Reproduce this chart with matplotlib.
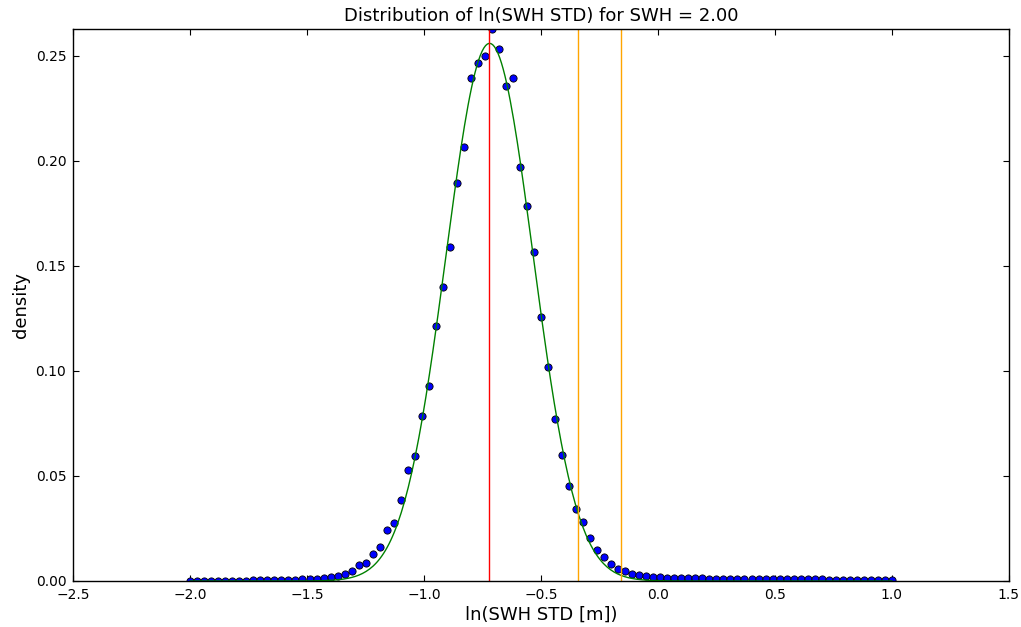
"""Distribution of ln(SWH STD) for one SWH bin, with a Gaussian fit."""

import matplotlib
matplotlib.use("Agg")
import matplotlib.pyplot as plt  # noqa: E402
import numpy as np  # noqa: E402

# histogram bins: centres from -2.0 to 1.0 in steps of 0.03
BIN_START = -2.0
BIN_STOP = 1.0
N_BINS = 101

DENSITY = [
    0.0001, 0.0001, 0.0001, 0.0001, 0.0001, 0.0002, 0.0002, 0.0002, 0.0002, 0.0003,
    0.0003, 0.0003, 0.0004, 0.0005, 0.0006, 0.0007, 0.0008, 0.0009, 0.0011, 0.0016,
    0.0017, 0.0025, 0.0035, 0.0046, 0.0076, 0.0086, 0.0127, 0.0163, 0.0241, 0.0276,
    0.0386, 0.0529, 0.0595, 0.0786, 0.0929, 0.1216, 0.1400, 0.1590, 0.1894, 0.2068,
    0.2397, 0.2468, 0.2500, 0.2627, 0.2535, 0.2356, 0.2397, 0.1971, 0.1786, 0.1565,
    0.1257, 0.1020, 0.0770, 0.0600, 0.0451, 0.0343, 0.0281, 0.0206, 0.0148, 0.0114,
    0.0081, 0.0056, 0.0046, 0.0035, 0.0027, 0.0024, 0.0021, 0.0019, 0.0016, 0.0014,
    0.0013, 0.0013, 0.0012, 0.0012, 0.0011, 0.0011, 0.0011, 0.0009, 0.0009, 0.0009,
    0.0009, 0.0009, 0.0009, 0.0008, 0.0008, 0.0008, 0.0008, 0.0009, 0.0009, 0.0008,
    0.0008, 0.0007, 0.0007, 0.0007, 0.0007, 0.0007, 0.0006, 0.0006, 0.0006, 0.0006,
    0.0004,
]

# Gaussian fit parameters
FIT_MEAN = -0.72
FIT_STD = 0.186
FIT_PEAK = 0.256

# vertical markers
MEAN_LINE = -0.723
QUANTILE_LINES = [-0.344, -0.160]

SWH = 2.00


def main() -> None:
    x = np.linspace(BIN_START, BIN_STOP, N_BINS)
    dens = np.array(DENSITY)

    xf = np.linspace(BIN_START, BIN_STOP, 400)
    yf = FIT_PEAK * np.exp(-0.5 * ((xf - FIT_MEAN) / FIT_STD) ** 2)

    fig = plt.figure(figsize=(10.21, 6.27), dpi=100)
    ax = fig.add_axes([0.0718, 0.0734, 0.9162, 0.8799])

    ax.plot(x, dens, "o", color="b", markeredgecolor="k", markersize=5.2,
            markeredgewidth=0.6)
    ax.plot(xf, yf, color="g", linewidth=1.0)
    ax.axvline(MEAN_LINE, color="r", linewidth=1.0)
    for q in QUANTILE_LINES:
        ax.axvline(q, color="orange", linewidth=1.0)

    ax.set_xlim(-2.5, 1.5)
    ax.set_ylim(0, dens.max())
    ax.set_xticks(np.arange(-2.5, 1.51, 0.5))
    ax.set_yticks(np.arange(0, 0.251, 0.05))
    ax.tick_params(direction="in", top=True, right=True, length=4, labelsize=10, pad=5)
    for s in ax.spines.values():
        s.set_linewidth(1.0)

    ax.set_xlabel("ln(SWH STD [m])", fontsize=13, labelpad=3)
    ax.set_ylabel("density", fontsize=13)
    ax.set_title(f"Distribution of ln(SWH STD) for SWH = {SWH:.2f}", fontsize=13, pad=6)

    fig.savefig("out.png", dpi=100)
    plt.close(fig)


if __name__ == "__main__":
    main()
